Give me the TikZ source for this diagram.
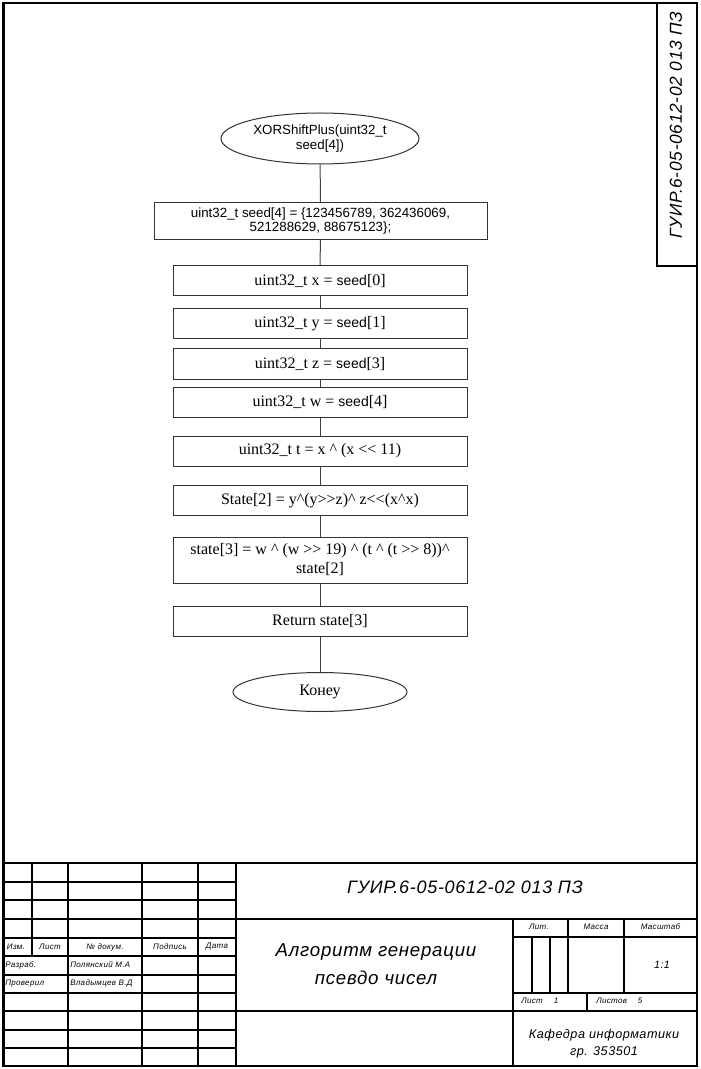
\documentclass[tikz,border=0pt]{standalone}
\usepackage{fontspec}
\setmainfont{Liberation Serif}[Ligatures=TeXOff]
\setsansfont{Liberation Sans}
\newfontfamily\gostfont[LetterSpace=4]{Liberation Sans}
\usetikzlibrary{shapes.geometric}

\newcommand{\sd}{{\sffamily\fontsize{10.5}{12}\selectfont seed}}

\tikzset{
	block/.style = {draw=black!80, line width=0.75pt, minimum width=220.5pt, minimum height=22.5pt, inner sep=1pt, align=center, font=\fontsize{12}{14.25}\selectfont},
	term/.style = {ellipse, draw=black!80, line width=0.75pt, inner sep=0pt, align=center},
	flow/.style = {draw=black!75, line width=0.75pt},
	frame/.style = {line width=2.2pt},
	stamp/.style = {line width=1.5pt},
	gost/.style = {inner sep=0pt, align=center, font=\gostfont\itshape},
	gostbig/.style = {gost, font=\gostfont\itshape\fontsize{13.5}{16}\selectfont},
	gostmid/.style = {gost, font=\gostfont\itshape\fontsize{14}{21}\selectfont},
	gostdep/.style = {gost, font=\gostfont\itshape\fontsize{9.5}{12.5}\selectfont},
	gostsmall/.style = {gost, font=\gostfont\itshape\fontsize{6}{7}\selectfont},
}

\begin{document}
\begin{tikzpicture}[x=0.75pt, y=-0.75pt]
		\useasboundingbox (0,0) rectangle (700,1069);
		
		%sheet frame
		\draw [frame] (3.5,3) rectangle (697,1066);
		
		%code box, top right
		\draw [stamp] (657,3) -- (657,266) -- (697,266);
		\node [gostbig, rotate=90, font=\gostfont\itshape\fontsize{13}{16}\selectfont] (vcode) at (676,125) {ГУИР.6-05-0612-02 013 ПЗ};
		
		%flowchart
		\node [term, minimum width=148.5pt, minimum height=38.25pt, font=\sffamily\fontsize{10}{11.25}\selectfont] (start) at (320,138.5) {XORShiftPlus(uint32\_t\\seed[4])};
		\node [block, minimum width=249.75pt, minimum height=27.75pt, font=\sffamily\fontsize{10}{10.5}\selectfont] (seed) at (320.5,221) {uint32\_t seed[4] = \{123456789, 362436069,\\521288629, 88675123\};};
		\node [block] (bx) at (320,281) {uint32\_t x = \sd[0]};
		\node [block] (by) at (320,324) {uint32\_t y = \sd[1]};
		\node [block] (bz) at (320,364) {uint32\_t z = \sd[3]};
		\node [block] (bw) at (320,402) {uint32\_t w = \sd[4]};
		\node [block] (bt) at (320,451) {uint32\_t t = x \^{} (x << 11)};
		\node [block] (bs2) at (320,500.5) {State[2] = y\^{}(y>>z)\^{} z<<(x\^{}x)};
		\node [block, minimum height=34.5pt] (bs3) at (320,560) {state[3] = w \^{} (w >> 19) \^{} (t \^{} (t >> 8))\^{}\\state[2]};
		\node [block] (ret) at (320,621) {Return state[3]};
		\node [term, minimum width=130.5pt, minimum height=29.25pt, font=\fontsize{12}{14}\selectfont] (fin) at (320,692) {Конеу};
		
		%connectors
		\draw [flow] (start) -- (seed);
		\draw [flow] (seed) -- (bx);
		\draw [flow] (bx) -- (by);
		\draw [flow] (by) -- (bz);
		\draw [flow] (bz) -- (bw);
		\draw [flow] (bw) -- (bt);
		\draw [flow] (bt) -- (bs2);
		\draw [flow] (bs2) -- (bs3);
		\draw [flow] (bs3) -- (ret);
		\draw [flow] (ret) -- (fin);
		
		%title block, left grid
		\draw [stamp] (3.5,863) -- (697,863);
		\foreach \y in {882,900,937.5,956,974.5,993,1029.5,1048}
			\draw [stamp] (3.5,\y) -- (236,\y);
		\foreach \x in {68,142,198,236}
			\draw [stamp] (\x,863) -- (\x,1066);
		\draw [stamp] (32,863) -- (32,956);
		
		%title block, right part
		\draw [stamp] (3.5,918.5) -- (697,918.5);
		\draw [stamp] (3.5,1011) -- (697,1011);
		\draw [stamp] (513,918.5) -- (513,1066);
		\draw [stamp] (513,937) -- (697,937);
		\draw [stamp] (513,993) -- (697,993);
		\draw [stamp] (568,918.5) -- (568,993);
		\draw [stamp] (624,918.5) -- (624,993);
		\draw [stamp] (531.5,937) -- (531.5,993);
		\draw [stamp] (550,937) -- (550,993);
		\draw [stamp] (587,993) -- (587,1011);
		
		%title block texts
		\node [gostbig] (code) at (465,887) {ГУИР.6-05-0612-02 013 ПЗ};
		\node [gostmid] (title) at (376,964) {Алгоритм генерации\\псевдо чисел};
		\node [gostdep] (dept) at (604,1043.5) {Кафедра информатики\\гр. 353501};
		
		\node [gostsmall] (izm) at (16,947) {Изм.};
		\node [gostsmall] (list) at (50,947) {Лист};
		\node [gostsmall] (ndoc) at (105,947) {№ докум.};
		\node [gostsmall] (podp) at (170,947) {Подпись};
		\node [gostsmall] (data) at (217,947) {Дата};
		
		\node [gostsmall, anchor=west] (razr) at (5,965) {Разраб.};
		\node [gostsmall, anchor=west] (razrn) at (70,965) {Полянский М.А};
		\node [gostsmall, anchor=west] (prov) at (5,983.5) {Проверил};
		\node [gostsmall, anchor=west] (provn) at (70,983.5) {Владымцев В.Д};
		
		\node [gostsmall] (lit) at (539,927) {Лит.};
		\node [gostsmall] (massa) at (596,927) {Масса};
		\node [gostsmall] (masht) at (660.5,927) {Масштаб};
		\node [gost, font=\gostfont\itshape\fontsize{8}{9}\selectfont] (scale) at (662,965) {1:1};
		\node [gostsmall, anchor=west] (sheet) at (521,1001) {Лист};
		\node [gostsmall] (sheetn) at (556,1001) {1};
		\node [gostsmall, anchor=west] (sheets) at (596,1001) {Листов};
		\node [gostsmall] (sheetsn) at (640,1001) {5};

	\end{tikzpicture}
\end{document}
